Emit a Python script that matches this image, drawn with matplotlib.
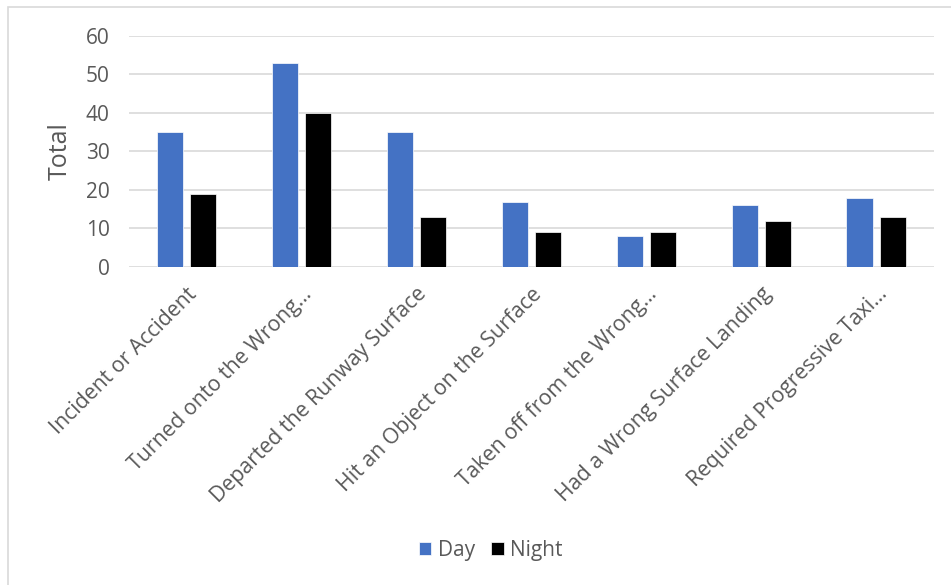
import numpy as np
import matplotlib.pyplot as plt
from matplotlib.patches import Rectangle

categories = ['Incident or Accident', 'Turned onto the Wrong…', 'Departed the Runway Surface',
              'Hit an Object on the Surface', 'Taken off from the Wrong…',
              'Had a Wrong Surface Landing', 'Required Progressive Taxi…']
day = [35, 53, 35, 17, 8, 16, 18]
night = [19, 40, 13, 9, 9, 12, 13]

plt.rcParams['font.family'] = ['Open Sans', 'DejaVu Sans']
text_color = '#595959'

fig = plt.figure(figsize=(9.51, 5.85), dpi=100)
ax = fig.add_axes([0.1356, 0.5436, 0.8464, 0.3949])

x = np.arange(len(categories))
w = 0.23
ax.bar(x - 0.145, day, w, color='#4472C4', edgecolor='white', linewidth=0.5, label='Day', zorder=3)
ax.bar(x + 0.145, night, w, color='black', edgecolor='white', linewidth=0.5, label='Night', zorder=3)

ax.set_xlim(-0.5, len(categories) - 0.5)
ax.set_ylim(0, 60)
ax.set_yticks(range(0, 61, 10))
ax.yaxis.grid(True, color='#D9D9D9', linewidth=1.2, zorder=0)
ax.set_axisbelow(True)
for s in ax.spines.values():
    s.set_visible(False)

ax.set_xticks(x)
ax.set_xticklabels(categories, rotation=45, ha='right', rotation_mode='anchor',
                   fontsize=15.3, color=text_color)
ax.tick_params(axis='x', length=0, pad=12)
ax.tick_params(axis='y', length=0, pad=14, labelsize=15, labelcolor=text_color)
ax.set_ylabel('Total', fontsize=18, color=text_color, labelpad=9)

leg = fig.legend(loc='center', bbox_to_anchor=(0.516, 0.059), ncol=2, frameon=False,
                 fontsize=15, handlelength=0.6, handleheight=0.6, handletextpad=0.3,
                 columnspacing=0.8)
for t in leg.get_texts():
    t.set_color(text_color)

# chart area border (cut off at the right and bottom)
fig.patches.append(Rectangle((8 / 951, -0.1), 1.2, 1 - 7 / 585 + 0.1,
                             transform=fig.transFigure, fill=False,
                             edgecolor='#D9D9D9', linewidth=1.2))

fig.savefig('out.png', dpi=100)
